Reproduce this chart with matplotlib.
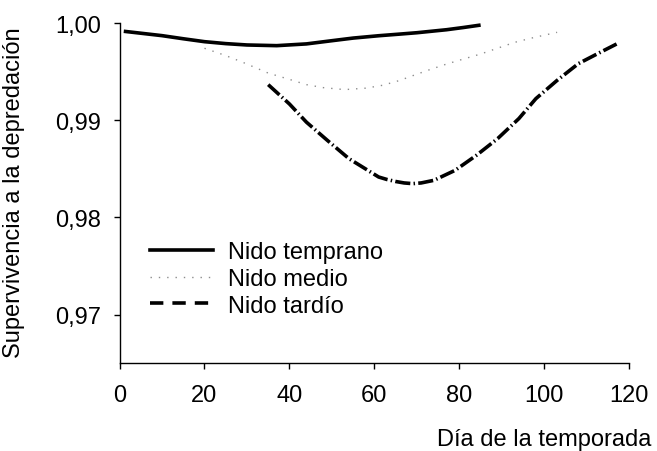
import numpy as np
import matplotlib
matplotlib.use("Agg")
import matplotlib.pyplot as plt
from matplotlib.lines import Line2D
from matplotlib.ticker import FuncFormatter

plt.rcParams["font.family"] = ["Liberation Sans", "DejaVu Sans"]

# survival curves
dia_temprano = [1, 5, 10, 15, 20, 25, 30, 37, 44, 50, 55, 61, 66, 70, 77, 81, 85]
sup_temprano = [0.99915, 0.99895, 0.99870, 0.99838, 0.99808, 0.99788, 0.99774, 0.99767,
                0.99785, 0.99818, 0.99845, 0.99869, 0.99886, 0.99900, 0.99931, 0.99954,
                0.99979]

dia_medio = [20, 25, 29, 35, 40, 44, 48, 53, 58, 62, 66, 69, 73, 77, 81, 85, 89, 93, 97, 100, 103]
sup_medio = [0.99740, 0.99665, 0.99596, 0.99485, 0.99420, 0.99366, 0.99335, 0.99315,
             0.99330, 0.99360, 0.99410, 0.99458, 0.99520, 0.99578, 0.99630, 0.99681,
             0.99741, 0.99801, 0.99845, 0.99875, 0.99904]

dia_tardio = [35, 40, 44, 49, 54, 59, 61, 63, 65, 67, 69, 71, 74, 79, 84, 89, 94, 98,
              103, 108, 113, 117]
sup_tardio = [0.99366, 0.99167, 0.98980, 0.98790, 0.98605, 0.98470, 0.98416, 0.98390,
              0.98370, 0.98355, 0.98348, 0.98355, 0.98382, 0.98485, 0.98639, 0.98811,
              0.99017, 0.99222, 0.99410, 0.99582, 0.99695, 0.99784]

y_ticks = [0.97, 0.98, 0.99, 1.00]
x_ticks = [0, 20, 40, 60, 80, 100, 120]

fig = plt.figure(figsize=(6.57, 4.52), dpi=100)
ax = fig.add_axes([0.1819, 0.194, 0.776, 0.7529])

ax.plot(dia_temprano, sup_temprano, color="black", lw=2.6, solid_capstyle="butt")
ax.plot(dia_medio, sup_medio, color="0.55", lw=1.0, linestyle=(0, (1, 5)))
ax.plot(dia_tardio, sup_tardio, color="black", lw=2.6,
        linestyle=(0, (4.2, 0.9, 0.4, 0.9)))

ax.set_xlim(0, 120)
ax.set_ylim(0.965, 1.0)
ax.set_xticks(x_ticks)
ax.set_yticks(y_ticks)
ax.yaxis.set_major_formatter(FuncFormatter(lambda v, p: f"{v:.2f}".replace(".", ",")))
ax.tick_params(axis="both", labelsize=17, length=4, width=1, direction="out")
ax.tick_params(axis="y", pad=9)
ax.tick_params(axis="x", pad=11)

for s in ["top", "right"]:
    ax.spines[s].set_visible(False)
for s in ["left", "bottom"]:
    ax.spines[s].set_linewidth(1.0)

ax.set_ylabel("Supervivencia a la depredación", fontsize=17)
ax.yaxis.set_label_coords(-0.185, 0.503)
fig.text(0.992, 1 - 440 / 452, "Día de la temporada", fontsize=17, ha="right", va="center")

handles = [
    Line2D([], [], color="black", lw=2.6),
    Line2D([], [], color="0.55", lw=1.0, linestyle=(0, (1, 5))),
    Line2D([], [], color="black", lw=2.6, linestyle=(0, (3.7, 2.5))),
]
ax.legend(handles, ["Nido temprano", "Nido medio", "Nido tardío"],
          loc="center left", bbox_to_anchor=(0.06, 0.2477), frameon=False,
          fontsize=17, handlelength=2.65, handletextpad=0.65, labelspacing=0.2,
          borderpad=0, borderaxespad=0)

fig.savefig("out.png", dpi=100)
